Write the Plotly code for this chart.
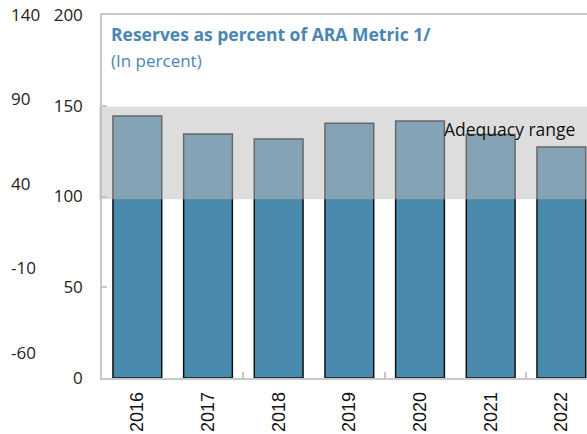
import plotly.graph_objects as go

years = ["2016", "2017", "2018", "2019", "2020", "2021", "2022"]
ara_pct = [144.4, 134.5, 131.7, 140.3, 141.6, 134.2, 127.3]
range_low = 98.5
range_high = 149.5
outer_ticks = [140, 90, 40, -10, -60]
outer_tick_text = ["140", "90", "40", "-10", "-60"]
title = "Reserves as percent of ARA Metric 1/"
subtitle = "(In percent)"
range_label = "Adequacy range"

W, H = 587, 434
MT, MB = 15, 56
x0_px = 102
dom0 = x0_px / W
PH = H - MT - MB


def py(px):
    return 1 - (px - MT) / PH


fig = go.Figure()
fig.add_trace(go.Bar(
    x=years, y=ara_pct, width=0.69,
    marker=dict(color="#4a8bad", line=dict(color="#111111", width=1.5)),
    showlegend=False, hoverinfo="x+y",
))
# invisible trace to hold secondary axes
fig.add_trace(go.Scatter(x=[0], y=[0], xaxis="x2", yaxis="y2", mode="markers",
                         marker=dict(opacity=0), showlegend=False, hoverinfo="skip"))

gray = "#c8c8c8"
tick_font = dict(family="Open Sans, Noto Sans, sans-serif", size=17, color="#222222")

fig.update_layout(
    width=W, height=H,
    margin=dict(l=0, r=0, t=MT, b=MB),
    plot_bgcolor="white", paper_bgcolor="white",
    xaxis=dict(domain=[dom0, 1], type="category", range=[-0.5, 6.363],
               showline=True, linecolor=gray, linewidth=1.5, mirror=True,
               ticks="", tickangle=-90, ticklabelstandoff=5,
               tickfont=dict(family="Liberation Sans, Arial, sans-serif", size=18, color="#111111"),
               showgrid=False, zeroline=False),
    xaxis2=dict(domain=[dom0, 1], overlaying="x", anchor="y", type="linear",
                range=[-0.5, 6.363], tick0=-0.5, dtick=2, ticks="inside",
                ticklen=6, tickcolor=gray, tickwidth=1.5,
                showticklabels=False, showgrid=False, zeroline=False, showline=False),
    yaxis=dict(range=[0, 200], dtick=50, showline=True, linecolor=gray, linewidth=1.5,
               ticks="inside", ticklen=5, tickcolor=gray, tickwidth=1.5,
               ticklabelstandoff=14, tickfont=tick_font,
               showgrid=False, zeroline=False),
    yaxis2=dict(range=[-75, 140], tickvals=outer_ticks, ticktext=outer_tick_text,
                overlaying="y", anchor="free",
                position=0, side="right", showline=False, ticks="",
                ticklabelstandoff=10, tickfont=tick_font,
                showgrid=False, zeroline=False),
    shapes=[dict(type="rect", xref="x domain", yref="y", x0=-0.006, x1=1,
                 y0=range_low, y1=range_high, fillcolor="rgba(188,188,188,0.51)",
                 line=dict(width=0), layer="above")],
    annotations=[
        dict(text="<b>" + title + "</b>", xref="paper", yref="paper",
             x=109 / W, y=py(34), xanchor="left", yanchor="middle", showarrow=False,
             font=dict(family="Open Sans, Noto Sans, sans-serif", size=17.5, color="#4a86b4")),
        dict(text=subtitle, xref="paper", yref="paper",
             x=109 / W, y=py(60), xanchor="left", yanchor="middle", showarrow=False,
             font=dict(family="Open Sans, Noto Sans, sans-serif", size=17, color="#4a86b4")),
        dict(text=range_label, xref="paper", yref="paper",
             x=509 / W, y=py(129), xanchor="center", yanchor="middle", showarrow=False,
             font=dict(family="Open Sans, Noto Sans, sans-serif", size=17.5, color="#111111")),
    ],
)

fig.write_html("out.html", config={"displayModeBar": False},
               post_script="document.body.style.margin='0';")
